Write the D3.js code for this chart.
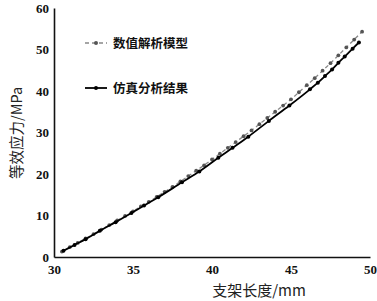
<!DOCTYPE html>
<html>
<head>
<meta charset="utf-8">
<script src="https://cdn.jsdelivr.net/npm/d3@7"></script>
<style>
  body { margin: 0; background: #fff; }
  svg { display: block; }
</style>
</head>
<body>
<svg width="377" height="301"></svg>
<script>
// 数值解析模型 (dashed) - stent length vs stress
let modelX = [30.5, 31, 31.5, 32, 32.5, 33, 33.5, 34, 34.5, 35, 35.5, 36, 36.5, 37, 37.5,
  38, 38.5, 39, 39.5, 40, 40.5, 41, 41.5, 42, 42.5, 43, 43.5, 44, 44.5, 45, 45.5,
  46, 46.5, 47, 47.5, 48, 48.5, 49, 49.5]
let modelY = [1.3, 2.4, 3.4, 4.5, 5.5, 6.6, 7.7, 8.8, 9.9, 11.0, 12.2, 13.3, 14.5, 15.7, 16.9,
  18.2, 19.5, 20.8, 22.1, 23.5, 24.9, 26.3, 27.7, 29.1, 30.5, 32.0, 33.5, 35.0, 36.5, 38.0, 39.7,
  41.4, 43.1, 44.9, 46.7, 48.6, 50.5, 52.4, 54.3]

// 仿真分析结果 (solid)
let simX = [30.6, 31.3, 32.0, 32.9, 33.9, 34.9, 35.7, 36.6, 38.1, 39.2, 40.4, 41.3, 42.3,
  43.6, 44.9, 46.2, 46.7, 47.15, 47.6, 48.0, 48.4, 48.9, 49.3]
let simY = [1.5, 2.9, 4.3, 6.3, 8.4, 10.6, 12.4, 14.4, 18.0, 20.6, 23.9, 26.3, 29.0,
  32.8, 36.5, 40.4, 42.0, 43.6, 45.2, 46.8, 48.3, 50.2, 51.7]

let xTicks = [30, 35, 40, 45, 50]
let yTicks = [0, 10, 20, 30, 40, 50, 60]
let seriesNames = ['数值解析模型', '仿真分析结果']

let margin = { top: 8, bottom: 44, left: 54, right: 7 }
let width = 377
let height = 301

let model = modelX.map((x, i) => ({ x: x, y: modelY[i] }))
let sim = simX.map((x, i) => ({ x: x, y: simY[i] }))

let xScale = d3.scaleLinear()
  .domain([30, 50])
  .range([margin.left, width - margin.right])

let yScale = d3.scaleLinear()
  .domain([0, 60])
  .range([height - margin.bottom, margin.top])

let svg = d3.select('svg')

let xAxis = d3.axisBottom(xScale).tickValues(xTicks).tickSize(0).tickPadding(8)
let yAxis = d3.axisLeft(yScale).tickValues(yTicks).tickSize(0).tickPadding(5)

svg.append('g')
  .attr('transform', 'translate(' + [0, height - margin.bottom] + ')')
  .call(xAxis)
svg.append('g')
  .attr('transform', 'translate(' + [margin.left, 0] + ')')
  .call(yAxis)

svg.selectAll('.domain').attr('stroke', '#111').attr('stroke-width', 1.6)
svg.selectAll('.tick text')
  .style('font-family', "'Liberation Serif', serif")
  .style('font-weight', 'bold')
  .style('font-size', '13px')
  .attr('fill', '#111')

let line = d3.line()
  .x(d => xScale(d.x))
  .y(d => yScale(d.y))
  .curve(d3.curveMonotoneX)

svg.append('path')
  .attr('d', line(model))
  .attr('fill', 'none')
  .attr('stroke', '#888')
  .attr('stroke-width', 1.3)
  .attr('stroke-dasharray', '4,3')

svg.append('g').selectAll('circle')
  .data(model)
  .join('circle')
  .attr('cx', d => xScale(d.x))
  .attr('cy', d => yScale(d.y))
  .attr('r', 1.9)
  .attr('fill', '#555')

svg.append('path')
  .attr('d', line(sim))
  .attr('fill', 'none')
  .attr('stroke', '#000')
  .attr('stroke-width', 1.8)

svg.append('g').selectAll('circle')
  .data(sim)
  .join('circle')
  .attr('cx', d => xScale(d.x))
  .attr('cy', d => yScale(d.y))
  .attr('r', 2)
  .attr('fill', '#000')

// legend
let legend = svg.append('g')
seriesNames.forEach((name, i) => {
  let ly = 43 + i * 45
  legend.append('line')
    .attr('x1', 85).attr('x2', 107)
    .attr('y1', ly).attr('y2', ly)
    .attr('stroke', i == 0 ? '#888' : '#000')
    .attr('stroke-width', i == 0 ? 1.3 : 1.8)
    .attr('stroke-dasharray', i == 0 ? '4,3' : null)
  legend.append('circle')
    .attr('cx', 96).attr('cy', ly).attr('r', 2)
    .attr('fill', i == 0 ? '#555' : '#000')
  legend.append('text')
    .attr('x', 113).attr('y', ly)
    .attr('dy', '0.36em')
    .attr('font-family', '"Noto Sans CJK SC", sans-serif')
    .attr('font-weight', 'bold')
    .attr('font-size', 12.5)
    .attr('fill', '#111')
    .text(name)
})

// axis titles
svg.append('text')
  .attr('x', 259).attr('y', 296)
  .attr('text-anchor', 'middle')
  .attr('font-family', '"Noto Sans CJK SC", sans-serif')
  .attr('font-size', 15)
  .attr('fill', '#222')
  .text('支架长度/mm')

svg.append('text')
  .attr('transform', 'translate(22,133) rotate(-90)')
  .attr('text-anchor', 'middle')
  .attr('font-family', '"Noto Sans CJK SC", sans-serif')
  .attr('font-size', 14.5)
  .attr('fill', '#222')
  .text('等效应力/MPa')
</script>
</body>
</html>
